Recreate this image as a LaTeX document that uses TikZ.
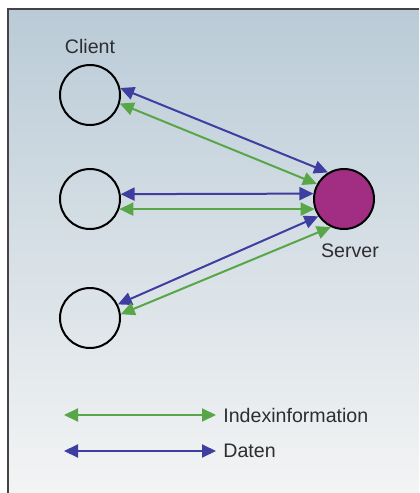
\documentclass[tikz,border=0pt]{standalone}
\usepackage{fontspec}
\setmainfont{Liberation Sans}
\usetikzlibrary{arrows.meta,positioning}
\definecolor{arrblue}{RGB}{62,62,160}
\definecolor{arrgreen}{RGB}{88,166,72}
\definecolor{srvpurple}{RGB}{162,46,132}
\definecolor{bgtop}{RGB}{186,203,215}
\definecolor{bgbot}{RGB}{243,244,244}
\definecolor{framegray}{RGB}{70,66,70}
\definecolor{txtgray}{RGB}{45,45,50}

\begin{document}
\begin{tikzpicture}[x=.5pt,y=-.5pt,font=\fontsize{9.8}{11}\selectfont,text=txtgray,
host/.style={circle,draw=black,line width=1pt,minimum size=30pt,inner sep=0pt},
dat/.style={{Triangle[length=7pt,width=6.5pt]}-{Triangle[length=7pt,width=6.5pt]},line width=1pt,draw=arrblue,fill=arrblue},
idx/.style={{Triangle[length=7pt,width=6.5pt]}-{Triangle[length=7pt,width=6.5pt]},line width=1pt,draw=arrgreen,fill=arrgreen}]

\useasboundingbox(0,0)rectangle(419,493);
\shade[top color=bgtop,bottom color=bgbot](8,9)rectangle(419,493);
\draw[framegray,line width=1pt](8,493)--(8,9)--(419,9);

\node[host](c1)at(90,95){};
\node[host](c2)at(90,199){};
\node[host](c3)at(90,318){};
\node[host,fill=srvpurple](srv)at(344,199){};
\node at(90,46){Client};
\node at(350,251){Server};

\draw[dat](c1.13)--(srv.121);
\draw[idx](c1.-16)--(srv.151);
\draw[dat](c2.9.6)--(srv.170.4);
\draw[idx](c2.-19.5)--(srv.199.5);
\draw[dat](c3.26)--(srv.214);
\draw[idx](c3.7)--(srv.245);

% Legende
\coordinate(ia)at(64,415);\coordinate(ib)at(216,415);
\coordinate(da)at(64,451);\coordinate(db)at(216,451);
\draw[idx](ia)--(ib);
\draw[dat](da)--(db);
\node[right=3.5pt of ib,inner sep=0pt]{Indexinformation};
\node[right=3.5pt of db,inner sep=0pt]{Daten};
\end{tikzpicture}
\end{document}
